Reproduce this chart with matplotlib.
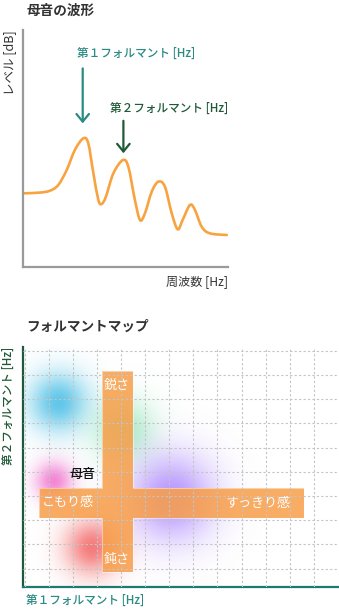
import numpy as np
import matplotlib
matplotlib.use('Agg')
import matplotlib.pyplot as plt
from matplotlib.path import Path
from matplotlib.patches import PathPatch, Polygon

plt.rcParams['font.family'] = ['Noto Sans CJK JP', 'DejaVu Sans']

W, H = 339, 612

# --- 母音の波形 (0-100 units) ---
freq = [0.7, 8.5, 13.4, 17.4, 21.5, 25.5, 29.6, 32.0, 34.5, 36.9, 38.5, 40.6, 44.2,
        48.8, 51.5, 54.7, 57.2, 59.6, 62.9, 66.1, 69.3, 72.6, 75.5, 77.9, 81.5,
        83.9, 87.2, 91.2, 99.4]
level = [31.1, 31.4, 32.2, 34.6, 40.9, 49.4, 54.3, 52.2, 39.5, 28.3, 26.6, 29.7, 39.5,
         45.1, 42.3, 28.3, 19.8, 22.7, 31.8, 36.0, 33.9, 22.7, 15.9, 19.8, 26.2,
         24.1, 17.0, 14.2, 13.5]

formant_labels = ['第１フォルマント [Hz]', '第２フォルマント [Hz]']
formant_freq = [29.3, 49.1]
arrow_from = [83.8, 61.7]
arrow_to = [60.6, 48.0]
label_x = [55.2, 71.3]
label_y = [90.2, 67.0]
formant_colors = ['#2a8a84', '#1f5a36']

# --- フォルマントマップ (grid units) ---
blob_x = [1.4, 4.1, 1.2, 2.8, 6.1]
blob_y = [6.85, 5.7, 3.6, 0.85, 2.9]
blob_s = [0.85, 0.9, 0.55, 0.8, 1.25]
blob_colors = ['#45bde6', '#70df9f', '#f060c8', '#f25050', '#9a6cff']
blob_alpha = [0.85, 0.55, 0.75, 0.75, 0.7]

# vertical bar (鋭さ/鈍さ) and horizontal bar (こもり感/すっきり感): x0, x1, y0, y1
bar_v = [3.19, 4.47, -0.12, 8.18]
bar_h = [0.59, 11.58, 2.08, 3.35]
bar_labels = ['鋭さ', '鈍さ', 'こもり感', 'すっきり感']
bar_label_x = [3.82, 3.82, 1.79, 9.71]
bar_label_y = [7.57, 0.36, 2.72, 2.70]
vowel_label = '母音'
vowel_xy = (2.38, 3.91)


def smooth_path(xs, ys):
    # Catmull-Rom -> cubic bezier so the renderer draws a smooth curve
    pts = np.column_stack([xs, ys])
    verts = [pts[0]]
    codes = [Path.MOVETO]
    for i in range(len(pts) - 1):
        p0 = pts[max(i - 1, 0)]
        p1 = pts[i]
        p2 = pts[i + 1]
        p3 = pts[min(i + 2, len(pts) - 1)]
        verts += [p1 + (p2 - p0) / 6, p2 - (p3 - p1) / 6, p2]
        codes += [Path.CURVE4] * 3
    return Path(verts, codes)


fig = plt.figure(figsize=(W / 100, H / 100), dpi=100)

# ---------- top chart ----------
ax1 = fig.add_axes([22.5 / W, (H - 267) / H, 205.5 / W, 237 / H])
ax1.set_xlim(0, 100)
ax1.set_ylim(0, 100)
for s in ['top', 'right']:
    ax1.spines[s].set_visible(False)
for s in ['left', 'bottom']:
    ax1.spines[s].set_color('#9a9a9a')
    ax1.spines[s].set_linewidth(1.6)
ax1.set_xticks([])
ax1.set_yticks([])
ax1.patch.set_alpha(0)
ax1.add_patch(PathPatch(smooth_path(freq, level), fill=False, edgecolor='#f8a33f',
                        lw=1.9, capstyle='round', joinstyle='round'))

for i in range(2):
    ax1.annotate('', xy=(formant_freq[i], arrow_to[i]), xytext=(formant_freq[i], arrow_from[i]),
                 arrowprops=dict(arrowstyle='->,head_length=0.55,head_width=0.45',
                                 color=formant_colors[i], lw=1.6, mutation_scale=10,
                                 shrinkA=0, shrinkB=0))
    ax1.text(label_x[i], label_y[i], formant_labels[i], color=formant_colors[i],
             ha='center', va='center', fontsize=8.4, fontweight='medium')

fig.text(26.5 / W, (H - 11) / H, '母音の波形', fontsize=9.8, fontweight='bold',
         color='#333333', ha='left', va='center')
fig.text(10 / W, (H - 30) / H, 'レベル [dB]', rotation=90, fontsize=9,
         color='#333333', ha='center', va='top')
fig.text(228 / W, (H - 282) / H, '周波数 [Hz]', fontsize=8.7,
         color='#333333', ha='right', va='center')

# ---------- bottom chart ----------
xlim = (-0.07, 13.05)
ylim = (-0.74, 9.16)
ax2 = fig.add_axes([23.3 / W, (H - 586.5) / H, (W - 23.3) / W, 239.5 / H])
ax2.set_xlim(*xlim)
ax2.set_ylim(*ylim)
for s in ['top', 'right']:
    ax2.spines[s].set_visible(False)
ax2.spines['left'].set_color('#1d5a3c')
ax2.spines['left'].set_linewidth(1.6)
ax2.spines['bottom'].set_color('#1d7a70')
ax2.spines['bottom'].set_linewidth(1.6)
ax2.set_xticks(range(13))
ax2.set_yticks(range(10))
ax2.tick_params(length=0, labelbottom=False, labelleft=False)
ax2.grid(True, color='#c4c4c4', lw=0.8, linestyle=(0, (2, 2)), zorder=1)
ax2.set_axisbelow(False)

# soft colour blobs composited into one RGBA image
gx = np.linspace(xlim[0], xlim[1], 400)
gy = np.linspace(ylim[0], ylim[1], 300)
XX, YY = np.meshgrid(gx, gy)
rgb = np.ones(XX.shape + (3,))
a_tot = np.zeros(XX.shape)
for bx, by, bs, bc, ba in zip(blob_x, blob_y, blob_s, blob_colors, blob_alpha):
    c = np.array(matplotlib.colors.to_rgb(bc))
    a = ba * np.exp(-((XX - bx) ** 2 + (YY - by) ** 2) / (2 * bs ** 2))
    new_a = a + a_tot * (1 - a)
    rgb = (c * a[..., None] + rgb * (a_tot * (1 - a))[..., None]) / np.maximum(new_a, 1e-6)[..., None]
    a_tot = new_a
img = np.dstack([rgb, a_tot])
ax2.imshow(img, extent=(xlim[0], xlim[1], ylim[0], ylim[1]), origin='lower',
           aspect='auto', interpolation='bilinear', zorder=0)

# cross made from the two bars (drawn as one shape so the overlap isn't darker)
vx0, vx1, vy0, vy1 = bar_v
hx0, hx1, hy0, hy1 = bar_h
cross = [(vx0, vy0), (vx1, vy0), (vx1, hy0), (hx1, hy0), (hx1, hy1), (vx1, hy1),
         (vx1, vy1), (vx0, vy1), (vx0, hy1), (hx0, hy1), (hx0, hy0), (vx0, hy0)]
ax2.add_patch(Polygon(cross, closed=True, facecolor='#f89e48', alpha=0.85,
                      edgecolor='none', zorder=2))
ax2.add_patch(Polygon(cross, closed=True, facecolor='none',
                      edgecolor=(1, 1, 1, 0.45), lw=0.8, zorder=2))

for t, x, y in zip(bar_labels, bar_label_x, bar_label_y):
    ax2.text(x, y, t, color='white', fontsize=9.4, ha='center', va='center', zorder=3)
ax2.text(*vowel_xy, vowel_label, color='#111111', fontsize=9.4, fontweight='medium',
         ha='center', va='center', zorder=3)

fig.text(26.5 / W, (H - 326.7) / H, 'フォルマントマップ', fontsize=9.8, fontweight='bold',
         color='#333333', ha='left', va='center')
fig.text(8 / W, (H - 346.5) / H, formant_labels[1], rotation=90, fontsize=8.4,
         fontweight='medium', color=formant_colors[1], ha='center', va='top')
fig.text(26 / W, (H - 600) / H, formant_labels[0], fontsize=8.4, fontweight='medium',
         color=formant_colors[0], ha='left', va='center')

fig.savefig('out.png', dpi=100)
